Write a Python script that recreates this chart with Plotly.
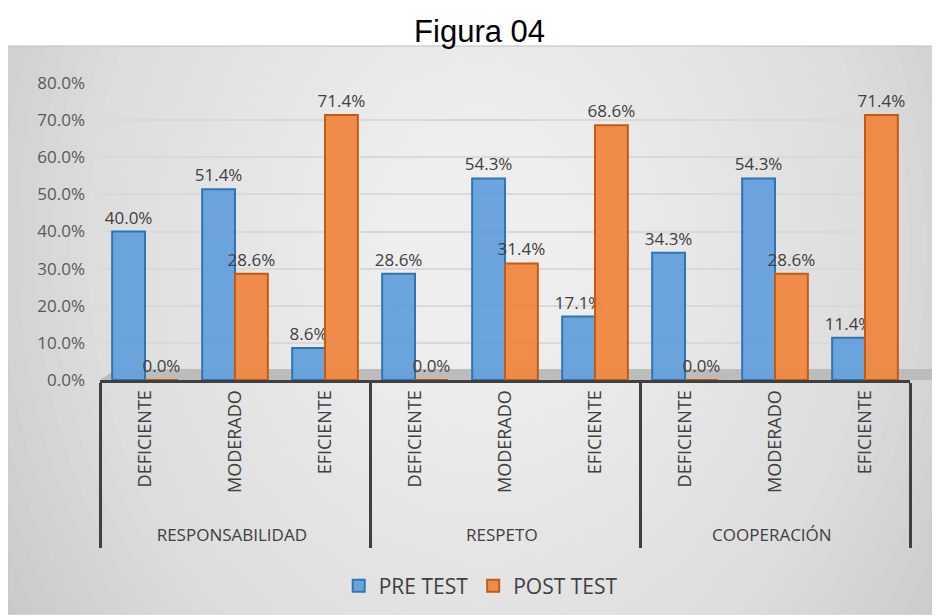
import plotly.graph_objects as go

group_names = ["RESPONSABILIDAD", "RESPETO", "COOPERACIÓN"]
level_names = ["DEFICIENTE", "MODERADO", "EFICIENTE"]
pre_test = [0.400, 0.514, 0.086, 0.286, 0.543, 0.171, 0.343, 0.543, 0.114]
post_test = [0.000, 0.286, 0.714, 0.000, 0.314, 0.686, 0.000, 0.286, 0.714]
y_ticks = [0, 0.1, 0.2, 0.3, 0.4, 0.5, 0.6, 0.7, 0.8]

# outer (group) labels slightly smaller than the inner labels
grp_style = "font-size:17px"
groups = [f'<span style="{grp_style}">{g}</span>' for g in group_names for _ in level_names]
# leading no-break spaces pad the rotated labels downward (text is anchored at the axis)
levels = ["\u00a0\u00a0\u00a0" + l for l in level_names] * 3

label_font = dict(family="Open Sans, sans-serif", size=17, color="#404040")

fig = go.Figure()
fig.add_trace(go.Bar(
    name="PRE TEST", x=[groups, levels], y=pre_test,
    marker=dict(color="rgba(100,160,220,0.95)", line=dict(color="#2E75B6", width=2)),
    text=[f"{v*100:.1f}%" for v in pre_test], textposition="outside", constraintext="none",
    textfont=label_font, cliponaxis=False,
))
fig.add_trace(go.Bar(
    name="POST TEST", x=[groups, levels], y=post_test,
    marker=dict(color="rgba(240,135,65,0.95)", line=dict(color="#C55A11", width=2)),
    text=[f"{v*100:.1f}%" for v in post_test], textposition="outside", constraintext="none",
    textfont=label_font, cliponaxis=False,
))

# plot area in figure pixels: left 92, right 902, top 75, bottom 373 (width 932, height 608)
PW, PH = 810.0, 298.0
shapes = [dict(type="rect", xref="paper", yref="paper", layer="below",
               x0=-92 / PW, x1=(932 - 92) / PW, y0=-(608 - 373) / PH, y1=(373 - 38) / PH,
               fillcolor="#c8c8c8", line=dict(color="#c4c4c4", width=1))]
n = 30
for i in range(n):
    r = 1.0 - i * (0.95 / n)
    shapes.append(dict(type="circle", xref="paper", yref="paper", layer="below",
                       x0=0.47 - r * 0.68, x1=0.47 + r * 0.68,
                       y0=0.45 - r * 2.3, y1=0.45 + r * 2.3,
                       fillcolor="white", opacity=0.055, line=dict(width=0)))
# restore white above the panel
shapes.append(dict(type="rect", xref="paper", yref="paper", layer="below",
                   x0=-92 / PW, x1=(932 - 92) / PW, y0=(373 - 37) / PH, y1=(373 + 10) / PH,
                   fillcolor="white", line=dict(width=0)))
shapes.append(dict(type="line", xref="paper", yref="paper", layer="below",
                   x0=-92 / PW, x1=(932 - 92) / PW, y0=(373 - 38) / PH, y1=(373 - 38) / PH,
                   line=dict(color="#c4c4c4", width=1)))
# 3-D style floor strip behind the bars
shapes.append(dict(type="path", xref="paper", yref="paper", layer="below",
                   path=f"M 0,0 L 1.03,0 L 1.03,{11/PH} L 0.02,{11/PH} Z",
                   fillcolor="#bcbcbc", line=dict(width=0)))

fig.update_layout(
    width=932, height=608,
    margin=dict(l=92, r=30, t=75, b=235),
    paper_bgcolor="white", plot_bgcolor="rgba(0,0,0,0)",
    title=dict(text="Figura 04", x=0.506, xanchor="center", y=1 - 23 / 608, yanchor="middle",
               yref="container", font=dict(family="Liberation Sans, Arial", size=31, color="black")),
    barmode="group", bargap=0.27, bargroupgap=0.0,
    shapes=shapes,
    showlegend=True,
    legend=dict(orientation="h", x=0.47, xanchor="center", y=(373 - 578) / PH, yanchor="middle",
                font=dict(family="Open Sans, sans-serif", size=21, color="#404040"),
                bgcolor="rgba(0,0,0,0)"),
    xaxis=dict(type="multicategory", tickangle=-90,
               tickfont=dict(family="Open Sans, sans-serif", size=18, color="#404040"),
               showline=True, linecolor="#404040", linewidth=3,
               showdividers=True, dividercolor="#404040", dividerwidth=3,
               ticks="", showgrid=False),
    yaxis=dict(range=[0, 0.8], tickvals=y_ticks, tickformat=".1%", ticklabelstandoff=14,
               tickfont=dict(family="Open Sans, sans-serif", size=17, color="#595959"),
               gridcolor="#d9d9d9", gridwidth=2, zeroline=False, showline=False, ticks=""),
)
fig.write_html("out.html")
